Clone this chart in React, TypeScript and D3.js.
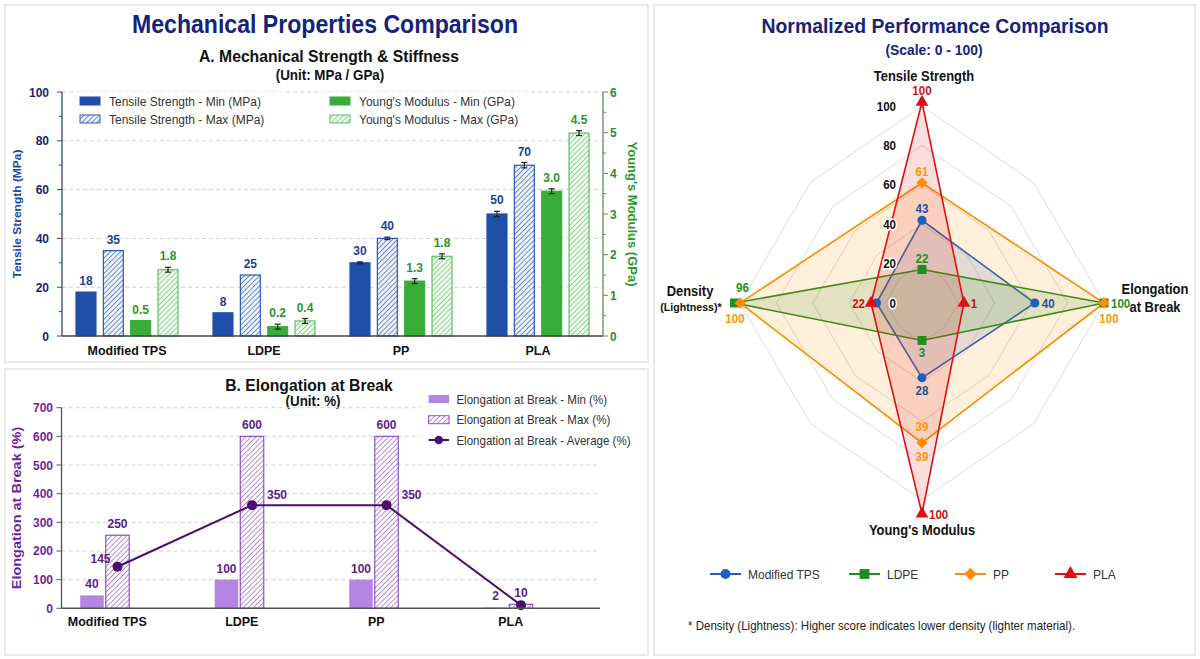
import * as d3 from "d3";

const FONT = "'Liberation Sans', Arial, Helvetica, sans-serif";
// the reference is slightly squeezed horizontally; text is squeezed to match
const SX = 0.924;

// ---------- data: panel A ----------
const materials = ["Modified TPS", "LDPE", "PP", "PLA"];
const tensileMin = [18, 9.5, 30, 50];
const tensileMax = [35, 25, 40, 70];
const youngMin = [0.38, 0.23, 1.35, 3.56];
const youngMax = [1.63, 0.37, 1.96, 4.99];
const tensileMinErr = [0, 0, 0.4, 1.1];
const tensileMaxErr = [0, 0, 0.5, 1.1];
const youngMinErr = [0, 0.06, 0.06, 0.06];
const youngMaxErr = [0.06, 0.06, 0.06, 0.06];
const tensileMinText = ["18", "8", "30", "50"];
const tensileMaxText = ["35", "25", "40", "70"];
const youngMinText = ["0.5", "0.2", "1.3", "3.0"];
const youngMaxText = ["1.8", "0.4", "1.8", "4.5"];
const tensileTicks = [0, 20, 40, 60, 80, 100];
const youngTicks = [0, 1, 2, 3, 4, 5, 6];

// ---------- data: panel B ----------
const elongMin = [45, 100, 100, 3];
const elongMax = [255, 600, 600, 14];
const elongAvg = [145, 360, 360, 11];
const elongMinText = ["40", "100", "100", "2"];
const elongMaxText = ["250", "600", "600", "10"];
const elongAvgText = ["145", "350", "350", ""];
const elongTicks = [0, 100, 200, 300, 400, 500, 600, 700];

// ---------- data: radar ----------
const radarAxes = ["Tensile Strength", "Elongation at Break", "Young's Modulus", "Density (Lightness)*"];
const radarTPS = [42, 62, 38, 25];
const radarLDPE = [17, 100, 19, 103];
const radarPP = [61, 100, 71, 100];
const radarPLA = [102, 23, 107, 28];
const radarTPSText = ["43", "40", "28", ""];
const radarLDPEText = ["22", "100", "3", "96"];
const radarPPText = ["61", "100", "39", "100"];
const radarPLAText = ["100", "1", "100", "22"];
const radarTicks = [0, 20, 40, 60, 80, 100];

const C = {
  navy: "#14247a",
  tsMin: "#1f4fa8",
  tsLabel: "#1c3f9a",
  ymMin: "#3aac3a",
  ymLine: "#5cc05c",
  ymLabel: "#2a962a",
  purpleBar: "#b384e2",
  purpleHatch: "#9050c0",
  purpleLine: "#4a0f6e",
  purpleText: "#5a1d8c",
  purpleAxis: "#6e1fa0",
  grid: "#d0d0d0",
};

function Txt({ x, y, children, size = 12, weight = 400, fill = "#333", anchor = "start", rotate = 0 }: any) {
  const t = rotate
    ? `translate(${x},${y}) rotate(${rotate}) scale(1,${SX})`
    : `translate(${x},${y}) scale(${SX},1)`;
  return (
    <text transform={t} fontSize={size} fontWeight={weight} fill={fill} textAnchor={anchor} fontFamily={FONT}>
      {children}
    </text>
  );
}

function Hatch({ id, bg, line }: any) {
  return (
    <pattern id={id} patternUnits="userSpaceOnUse" width={3.6} height={3.6} patternTransform="rotate(45)">
      <rect width={3.6} height={3.6} fill={bg} />
      <line x1={0} y1={0} x2={0} y2={3.6} stroke={line} strokeWidth={1.3} />
    </pattern>
  );
}

// ---------------- Panel A ----------------
function PanelA() {
  const x = d3.scaleBand<string>().domain(materials).range([58.5, 606.5]);
  const sub = d3.scaleBand<string>().domain(["tsMin", "tsMax", "ymMin", "ymMax"]).range([-51, 51]).paddingInner(0.27);
  const yTS = d3.scaleLinear().domain([0, 100]).range([336, 92]);
  const yYM = d3.scaleLinear().domain([0, 6]).range([336, 92]);
  const left = 62;
  const right = 603;
  const bw = sub.bandwidth();

  const series = [
    { key: "tsMin", vals: tensileMin, err: tensileMinErr, text: tensileMinText, y: yTS, fill: C.tsMin, stroke: C.tsMin, lc: C.tsLabel },
    { key: "tsMax", vals: tensileMax, err: tensileMaxErr, text: tensileMaxText, y: yTS, fill: "url(#hBlue)", stroke: "#2a58b8", lc: C.tsLabel },
    { key: "ymMin", vals: youngMin, err: youngMinErr, text: youngMinText, y: yYM, fill: C.ymMin, stroke: C.ymMin, lc: C.ymLabel },
    { key: "ymMax", vals: youngMax, err: youngMaxErr, text: youngMaxText, y: yYM, fill: "url(#hGreen)", stroke: C.ymLine, lc: C.ymLabel },
  ];
  const legendLabels = [
    "Tensile Strength - Min (MPa)",
    "Tensile Strength - Max (MPa)",
    "Young's Modulus - Min (GPa)",
    "Young's Modulus - Max (GPa)",
  ];

  const minorTS = d3.range(0, 101, 10);
  const minorYM = d3.range(0, 6.01, 0.5);

  return (
    <g>
      <rect x={5} y={5} width={643} height={357} fill="#fff" stroke="#e3e3e3" strokeWidth={1.5} />
      <Txt x={325} y={33} size={25} weight={700} fill={C.navy} anchor="middle">Mechanical Properties Comparison</Txt>
      <Txt x={329} y={62} size={17} weight={700} fill="#111" anchor="middle">A. Mechanical Strength &amp; Stiffness</Txt>
      <Txt x={330} y={80} size={14.5} weight={700} fill="#111" anchor="middle">(Unit: MPa / GPa)</Txt>

      {/* grid */}
      {tensileTicks.filter((t) => t > 0).map((t) => (
        <line key={t} x1={left} x2={right} y1={yTS(t)} y2={yTS(t)} stroke={C.grid} strokeDasharray="4,3" />
      ))}

      {/* legend (white backing hides the grid) */}
      <rect x={74} y={92} width={211} height={35} fill="#fff" />
      <rect x={322} y={92} width={207} height={35} fill="#fff" />
      {series.map((s, i) => {
        const lx = i < 2 ? 80 : 330;
        const ly = i % 2 === 0 ? 101 : 119;
        return (
          <g key={s.key}>
            <rect x={lx} y={ly - 4} width={20} height={8} fill={s.fill} stroke={s.stroke} strokeWidth={1} />
            <Txt x={lx + 29} y={ly + 4.5} size={13} fill="#333">{legendLabels[i]}</Txt>
          </g>
        );
      })}

      {/* bars */}
      {series.map((s) =>
        materials.map((m, i) => {
          const bx = (x(m) as number) + x.bandwidth() / 2 + (sub(s.key) as number);
          const top = s.y(s.vals[i]);
          const e = s.err[i];
          const eTop = e > 0 ? s.y(s.vals[i] + e) : top;
          const eBot = e > 0 ? s.y(s.vals[i] - e) : top;
          const cx = bx + bw / 2;
          return (
            <g key={s.key + m}>
              <rect x={bx} y={top} width={bw} height={336 - top} fill={s.fill} stroke={s.stroke} strokeWidth={1.2} />
              {e > 0 && (
                <g stroke="#222" strokeWidth={1.2}>
                  <line x1={cx} x2={cx} y1={eTop} y2={eBot} />
                  <line x1={cx - 3} x2={cx + 3} y1={eTop} y2={eTop} />
                  <line x1={cx - 3} x2={cx + 3} y1={eBot} y2={eBot} />
                </g>
              )}
              <Txt x={cx} y={eTop - 7} size={13} weight={700} fill={s.lc} anchor="middle">{s.text[i]}</Txt>
            </g>
          );
        })
      )}

      {/* x axis */}
      <line x1={left} x2={right} y1={336} y2={336} stroke="#444" strokeWidth={1.5} />
      {materials.map((m) => (
        <Txt key={m} x={(x(m) as number) + x.bandwidth() / 2} y={355} size={13.5} weight={700} fill="#111" anchor="middle">{m}</Txt>
      ))}

      {/* left axis */}
      <line x1={left} x2={left} y1={yTS(100)} y2={336} stroke="#33447a" strokeWidth={1.3} />
      {minorTS.map((t) => (
        <line key={t} x1={left} x2={left - (t % 20 === 0 ? 5 : 3)} y1={yTS(t)} y2={yTS(t)} stroke="#33447a" />
      ))}
      {tensileTicks.map((t) => (
        <Txt key={t} x={49} y={yTS(t) + 4.5} size={13} weight={700} fill={C.navy} anchor="end">{t}</Txt>
      ))}
      <Txt x={21} y={214} size={12} weight={700} fill="#1f45a5" anchor="middle" rotate={-90}>Tensile Strength (MPa)</Txt>

      {/* right axis */}
      <line x1={right} x2={right} y1={yYM(6)} y2={336} stroke="#5c8c5c" strokeWidth={1.3} />
      {minorYM.map((t) => (
        <line key={t} x1={right} x2={right + (t % 1 === 0 ? 5 : 3)} y1={yYM(t)} y2={yYM(t)} stroke="#5c8c5c" />
      ))}
      {youngTicks.map((t) => (
        <Txt key={t} x={610} y={yYM(t) + 4.5} size={13} weight={700} fill="#2e8b2e">{t}</Txt>
      ))}
      <Txt x={628} y={214} size={13} weight={700} fill="#2a9a2a" anchor="middle" rotate={90}>Young's Modulus (GPa)</Txt>
    </g>
  );
}

// ---------------- Panel B ----------------
function PanelB() {
  const x = d3.scaleBand<string>().domain(materials).range([40, 578]);
  const sub = d3.scaleBand<string>().domain(["min", "max"]).range([-27, 22]).paddingInner(0.08);
  const y = d3.scaleLinear().domain([0, 700]).range([608.3, 407.7]);
  const left = 61.5;
  const right = 600;
  const bw = sub.bandwidth();
  const cx = (m: string) => (x(m) as number) + x.bandwidth() / 2;
  const avgPts: [number, number][] = materials.map((m, i) => [cx(m) + (sub("max") as number) + bw / 2, y(elongAvg[i])]);

  return (
    <g>
      <rect x={5} y={369} width={643} height={286} fill="#fff" stroke="#e3e3e3" strokeWidth={1.5} />
      <Txt x={309} y={391} size={17} weight={700} fill="#111" anchor="middle">B. Elongation at Break</Txt>
      <Txt x={313} y={405.5} size={14.5} weight={700} fill="#111" anchor="middle">(Unit: %)</Txt>

      {elongTicks.filter((t) => t > 0).map((t) => (
        <line key={t} x1={left} x2={597} y1={y(t)} y2={y(t)} stroke={C.grid} strokeDasharray="4,3" />
      ))}

      {/* legend */}
      <rect x={420} y={390} width={224} height={58} fill="#fff" />
      <rect x={428.6} y={395} width={20.4} height={8} fill={C.purpleBar} />
      <Txt x={456.4} y={403.5} size={12.5} fill="#333">Elongation at Break - Min (%)</Txt>
      <rect x={428.6} y={415.7} width={20.4} height={8} fill="url(#hPurple)" stroke={C.purpleHatch} strokeWidth={1} />
      <Txt x={456.4} y={424.2} size={12.5} fill="#333">Elongation at Break - Max (%)</Txt>
      <line x1={428.6} x2={449} y1={440} y2={440} stroke={C.purpleLine} strokeWidth={2} />
      <circle cx={438.8} cy={440} r={4.3} fill={C.purpleLine} />
      <Txt x={456.4} y={444.5} size={12.5} fill="#333">Elongation at Break - Average (%)</Txt>

      {materials.map((m, i) => {
        const c = cx(m);
        const x0 = c + (sub("min") as number);
        const x1 = c + (sub("max") as number);
        const t0 = y(elongMin[i]);
        const t1 = y(elongMax[i]);
        return (
          <g key={m}>
            <rect x={x0} y={t0} width={bw} height={608.3 - t0} fill={C.purpleBar} />
            <rect x={x1} y={t1} width={bw} height={608.3 - t1} fill="url(#hPurple)" stroke={C.purpleHatch} strokeWidth={1.2} />
            <Txt x={x0 + bw / 2} y={t0 - 7} size={13} weight={700} fill={C.purpleText} anchor="middle">{elongMinText[i]}</Txt>
            <Txt x={x1 + bw / 2} y={t1 - 7} size={13} weight={700} fill={C.purpleText} anchor="middle">{elongMaxText[i]}</Txt>
          </g>
        );
      })}

      <path d={d3.line()(avgPts) as string} fill="none" stroke={C.purpleLine} strokeWidth={2} />
      {avgPts.map(([px, py], i) => (
        <g key={i}>
          <circle cx={px} cy={py} r={5} fill={C.purpleLine} />
          {i === 0 ? (
            <Txt x={px - 7} y={py - 4} size={13} weight={700} fill={C.purpleText} anchor="end">{elongAvgText[i]}</Txt>
          ) : (
            <Txt x={px + 15} y={py - 6} size={13} weight={700} fill={C.purpleText}>{elongAvgText[i]}</Txt>
          )}
        </g>
      ))}

      {/* axes */}
      <line x1={left} x2={right} y1={608.3} y2={608.3} stroke="#555" strokeWidth={1.5} />
      <line x1={left} x2={left} y1={y(700)} y2={608.3} stroke="#555" strokeWidth={1.3} />
      {elongTicks.map((t) => (
        <g key={t}>
          <line x1={left} x2={left - 5} y1={y(t)} y2={y(t)} stroke="#555" />
          <Txt x={53} y={y(t) + 4.5} size={13} weight={700} fill={C.purpleAxis} anchor="end">{t}</Txt>
        </g>
      ))}
      {materials.map((m) => (
        <Txt key={m} x={cx(m)} y={626} size={13.5} weight={700} fill="#111" anchor="middle">{m}</Txt>
      ))}
      <Txt x={21} y={508} size={14.5} weight={700} fill={C.purpleAxis} anchor="middle" rotate={-90}>Elongation at Break (%)</Txt>
    </g>
  );
}

// ---------------- Radar ----------------
const radarColors = ["#1f5fbf", "#1e8c1e", "#ff8c00", "#dd1111"];
const radarLabelColors = ["#1f4f9f", "#1e8c1e", "#ff9500", "#cc1111"];
const radarSymbols = [d3.symbolCircle, d3.symbolSquare, d3.symbolSquare, d3.symbolTriangle];
const radarSymbolSize = [64, 80, 64, 70];
const radarSymbolRot = [0, 0, 45, 0];
// label placement per series and axis (style, not data)
const radarPlace = [
  ["above", "right", "below", "none"],
  ["above", "right", "below", "aboveRight"],
  ["above", "below", "both", "below"],
  ["above", "right", "right", "left"],
];

function Radar() {
  const cx = 922;
  const cy = 303;
  const rx = d3.scaleLinear().domain([0, 100]).range([0, 182]);
  const ry = d3.scaleLinear().domain([0, 100]).range([0, 197]);
  const dirs = [[0, -1], [1, 0], [0, 1], [-1, 0]];
  const pt = (k: number, v: number): [number, number] => [cx + dirs[k][0] * rx(v), cy + dirs[k][1] * ry(v)];

  const values = [radarTPS, radarLDPE, radarPP, radarPLA];
  const texts = [radarTPSText, radarLDPEText, radarPPText, radarPLAText];

  const ring = (L: number) => {
    const pts: [number, number][] = d3.range(8).map((k) => {
      const a = (k * Math.PI) / 4;
      const f = k % 2 === 0 ? 1 : 0.866;
      return [cx + Math.sin(a) * rx(L) * f, cy - Math.cos(a) * ry(L) * f];
    });
    return d3.line().curve(d3.curveLinearClosed)(pts) as string;
  };
  const closed = d3.line().curve(d3.curveLinearClosed);

  const labelFor = (s: number, k: number, px: number, py: number) => {
    const place = radarPlace[s][k];
    const t = texts[s][k];
    const col = radarLabelColors[s];
    const common = { size: 12.5, weight: 700, fill: col };
    if (place === "none" || !t) return null;
    if (place === "above") return <Txt {...common} x={px} y={py - 7} anchor="middle">{t}</Txt>;
    if (place === "below")
      return <Txt {...common} x={px + dirs[k][0] * 5} y={py + (k % 2 === 1 ? 20 : 17)} anchor="middle">{t}</Txt>;
    if (place === "right") return <Txt {...common} x={px + 7} y={py + 5} anchor="start">{t}</Txt>;
    if (place === "left") return <Txt {...common} x={px - 6} y={py + 4.5} anchor="end">{t}</Txt>;
    if (place === "aboveRight") return <Txt {...common} x={px + 8} y={py - 11} anchor="middle">{t}</Txt>;
    if (place === "both")
      return (
        <g>
          <Txt {...common} x={px} y={py - 12} anchor="middle">{t}</Txt>
          <Txt {...common} x={px} y={py + 18} anchor="middle">{t}</Txt>
        </g>
      );
    return null;
  };

  const legendX = [710, 849, 955, 1055];

  return (
    <g>
      <rect x={654} y={5} width={541} height={650} fill="#fff" stroke="#e3e3e3" strokeWidth={1.5} />
      <Txt x={935} y={33} size={21} weight={700} fill={C.navy} anchor="middle">Normalized Performance Comparison</Txt>
      <Txt x={934} y={55} size={15} weight={700} fill={C.navy} anchor="middle">(Scale: 0 - 100)</Txt>

      {radarTicks.filter((t) => t > 0).map((t) => (
        <path key={t} d={ring(t)} fill="none" stroke="#dcdcdc" strokeWidth={1} />
      ))}

      {values.map((v, s) => (
        <path
          key={"f" + s}
          d={closed(v.map((val, k) => pt(k, val))) as string}
          fill={radarColors[s]}
          fillOpacity={0.14}
          stroke={radarColors[s]}
          strokeWidth={1.6}
        />
      ))}
      {values.map((v, s) =>
        v.map((val, k) => {
          const [px, py] = pt(k, val);
          return (
            <path
              key={"m" + s + k}
              transform={`translate(${px},${py}) rotate(${radarSymbolRot[s]})`}
              d={d3.symbol().type(radarSymbols[s]).size(radarSymbolSize[s])() as string}
              fill={radarColors[s]}
            />
          );
        })
      )}
      {values.map((v, s) =>
        v.map((val, k) => {
          const [px, py] = pt(k, val);
          return <g key={"l" + s + k}>{labelFor(s, k, px, py)}</g>;
        })
      )}

      {radarTicks.map((t) => (
        <text
          key={t}
          transform={`translate(896,${cy - ry(t) + 4.5}) scale(${SX},1)`}
          fontSize={12.5}
          fontWeight={700}
          fontFamily={FONT}
          textAnchor="end"
          fill="#111"
          stroke="#fff"
          strokeWidth={3}
          paintOrder="stroke"
        >
          {t}
        </text>
      ))}

      {/* axis titles */}
      <Txt x={924} y={81} size={14} weight={700} fill="#111" anchor="middle">{radarAxes[0]}</Txt>
      <Txt x={1155} y={294} size={14} weight={700} fill="#111" anchor="middle">Elongation</Txt>
      <Txt x={1155} y={312} size={14} weight={700} fill="#111" anchor="middle">at Break</Txt>
      <Txt x={922} y={535} size={14} weight={700} fill="#111" anchor="middle">{radarAxes[2]}</Txt>
      <Txt x={690} y={296} size={14} weight={700} fill="#111" anchor="middle">Density</Txt>
      <Txt x={691} y={311} size={11.5} weight={700} fill="#111" anchor="middle">(Lightness)*</Txt>

      {/* legend */}
      {materials.map((m, s) => {
        const lx = legendX[s];
        return (
          <g key={m}>
            <line x1={lx} x2={lx + 31} y1={574} y2={574} stroke={radarColors[s]} strokeWidth={2} />
            <path
              transform={`translate(${lx + 15.5},574) rotate(${radarSymbolRot[s]})`}
              d={d3.symbol().type(radarSymbols[s]).size(radarSymbolSize[s] * 1.2)() as string}
              fill={radarColors[s]}
            />
            <Txt x={lx + 38} y={578.5} size={13} fill="#333">{m}</Txt>
          </g>
        );
      })}

      <Txt x={688} y={630} size={12.5} fill="#222">* Density (Lightness): Higher score indicates lower density (lighter material).</Txt>
    </g>
  );
}

export default function App() {
  return (
    <svg width={1200} height={659} style={{ position: "absolute", left: 0, top: 0, background: "#fff" }}>
      <defs>
        <Hatch id="hBlue" bg="#eef2fb" line="#2a58b8" />
        <Hatch id="hGreen" bg="#f1faf1" line={C.ymLine} />
        <Hatch id="hPurple" bg="#ffffff" line={C.purpleHatch} />
      </defs>
      <rect width={1200} height={659} fill="#fff" />
      <PanelA />
      <PanelB />
      <Radar />
    </svg>
  );
}
